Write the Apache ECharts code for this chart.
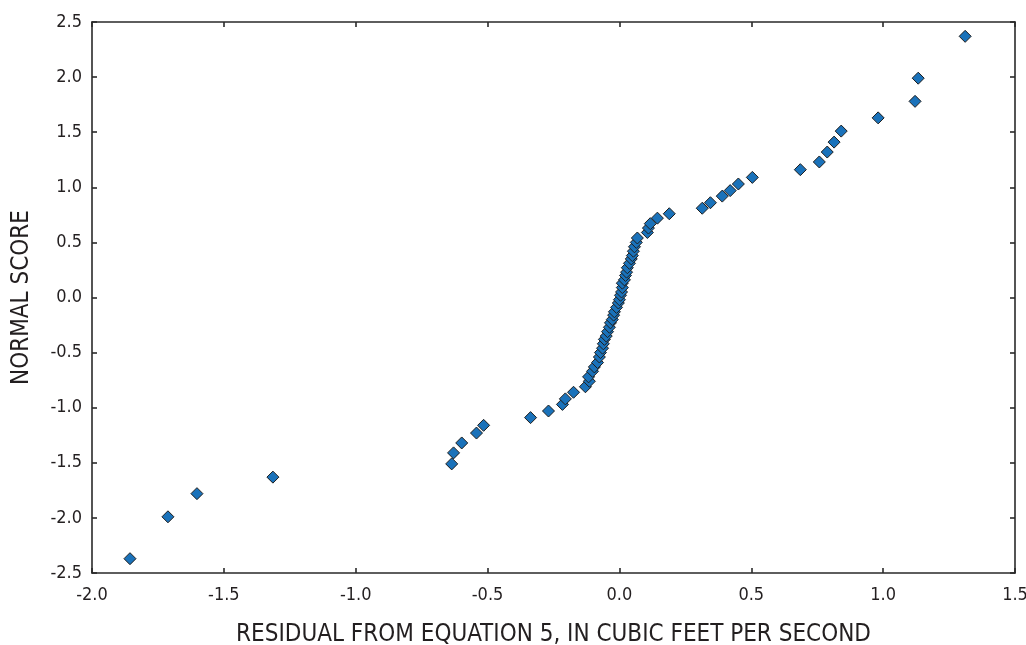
<!DOCTYPE html>
<html>
<head>
<meta charset="utf-8">
<title>Normal score versus residual</title>
<script src="https://cdn.jsdelivr.net/npm/echarts@6/dist/echarts.min.js"></script>
<style>
  html, body { margin: 0; padding: 0; background: #ffffff; overflow: hidden; }
  #chart { width: 1026px; height: 645px; }
</style>
</head>
<body>
<div id="chart"></div>
<script>
// Residuals (cubic feet per second), ordered from smallest to largest
const residual = [
  -1.856, -1.712, -1.602, -1.314, -0.636, -0.629, -0.598, -0.542, -0.515, -0.337,
  -0.269, -0.216, -0.205, -0.174, -0.129, -0.114, -0.117, -0.102, -0.095, -0.083,
  -0.076, -0.072, -0.064, -0.061, -0.057, -0.050, -0.045, -0.038, -0.034, -0.027,
  -0.022, -0.019, -0.011, -0.004, 0.000, 0.004, 0.008, 0.011, 0.011, 0.019,
  0.023, 0.027, 0.030, 0.038, 0.045, 0.049, 0.053, 0.057, 0.064, 0.068,
  0.106, 0.110, 0.117, 0.144, 0.189, 0.314, 0.345, 0.390, 0.420, 0.451,
  0.504, 0.686, 0.758, 0.788, 0.814, 0.841, 0.981, 1.121, 1.133, 1.311
];

// Normal score of each residual
const normalScore = [
  -2.37, -1.99, -1.78, -1.63, -1.51, -1.41, -1.32, -1.23, -1.16, -1.09,
  -1.03, -0.97, -0.92, -0.86, -0.81, -0.76, -0.72, -0.67, -0.63, -0.59,
  -0.54, -0.50, -0.46, -0.42, -0.38, -0.35, -0.31, -0.27, -0.23, -0.20,
  -0.16, -0.13, -0.09, -0.05, -0.02, 0.02, 0.05, 0.09, 0.13, 0.16,
  0.20, 0.23, 0.27, 0.31, 0.35, 0.38, 0.42, 0.46, 0.50, 0.54,
  0.59, 0.63, 0.67, 0.72, 0.76, 0.81, 0.86, 0.92, 0.97, 1.03,
  1.09, 1.16, 1.23, 1.32, 1.41, 1.51, 1.63, 1.78, 1.99, 2.37
];

// Axis ranges and tick spacing
const xRange = { min: -2.0, max: 1.5, interval: 0.5 };
const yRange = { min: -2.5, max: 2.5, interval: 0.5 };

const xTitle = 'RESIDUAL FROM EQUATION 5, IN CUBIC FEET PER SECOND';
const yTitle = 'NORMAL SCORE';

const FONT = '"Liberation Sans Narrow", "DejaVu Sans Condensed", "Liberation Sans", Arial, sans-serif';
const TEXT_COLOR = '#231f20';
const AXIS_COLOR = '#2a2a2a';

const points = residual.map((r, i) => [r, normalScore[i]]);

// One side of the plot frame: axis line with inward ticks
function frameAxis(range, position, labelOpts, extra) {
  return Object.assign({
    type: 'value',
    position: position,
    min: range.min,
    max: range.max,
    interval: range.interval,
    splitLine: { show: false },
    axisLine: { show: true, onZero: false, lineStyle: { color: AXIS_COLOR, width: 1.6 } },
    axisTick: { show: true, inside: true, length: 5, lineStyle: { color: AXIS_COLOR, width: 1.6 } },
    axisLabel: labelOpts
      ? Object.assign({
          show: true, color: TEXT_COLOR, fontFamily: FONT, fontSize: 18,
          formatter: v => v.toFixed(1)
        }, labelOpts)
      : { show: false }
  }, extra || {});
}

const chart = echarts.init(document.getElementById('chart'), null, { renderer: 'canvas' });

chart.setOption({
  animation: false,
  backgroundColor: '#ffffff',
  grid: {
    left: 92, right: 11, top: 22, bottom: 72,
    containLabel: false,
    outerBoundsMode: 'none'
  },
  xAxis: [
    frameAxis(xRange, 'bottom', { margin: 13 }, {
      name: xTitle,
      nameLocation: 'middle',
      nameGap: 50,
      nameTextStyle: { fontFamily: FONT, fontSize: 24, color: TEXT_COLOR }
    }),
    frameAxis(xRange, 'top', null)
  ],
  yAxis: [
    frameAxis(yRange, 'left', { margin: 10 }, {
      name: yTitle,
      nameLocation: 'middle',
      nameGap: 58,
      nameRotate: 90,
      nameTextStyle: { fontFamily: FONT, fontSize: 24, color: TEXT_COLOR }
    }),
    frameAxis(yRange, 'right', null)
  ],
  series: [{
    type: 'scatter',
    xAxisIndex: 0,
    yAxisIndex: 0,
    data: points,
    symbol: 'diamond',
    symbolSize: 12,
    itemStyle: { color: '#1a72ba', borderColor: '#1e1e1e', borderWidth: 1, opacity: 1 }
  }]
});
</script>
</body>
</html>
